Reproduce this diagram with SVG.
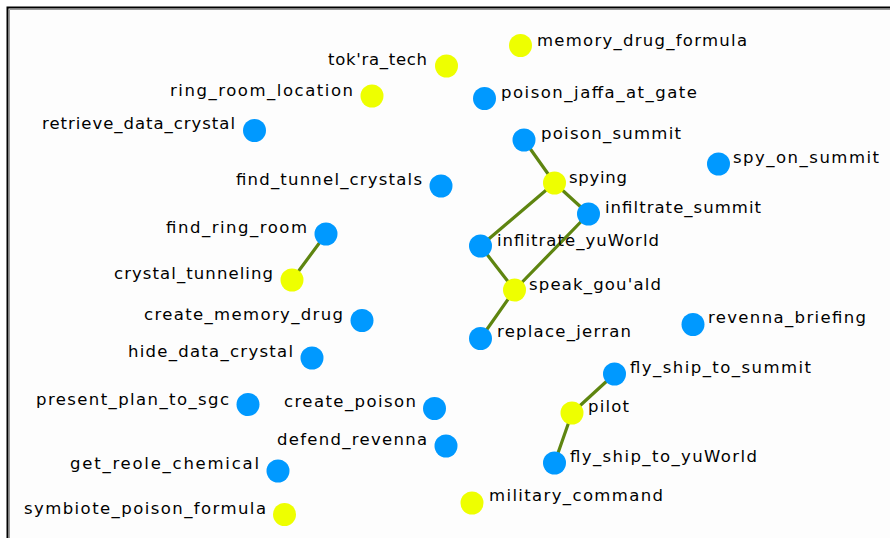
<svg xmlns="http://www.w3.org/2000/svg" width="890" height="538" viewBox="0 0 890 538">
<style>
.b{fill:#0099ff}
.y{fill:#eeff00}
text{font-family:"DejaVu Sans",Verdana,sans-serif;font-size:16.5px;fill:#000}
.e{stroke:#5e8510;stroke-width:3.2;stroke-linecap:round;fill:none}
</style>
<rect x="0" y="0" width="890" height="538" fill="#ffffff"/>
<rect x="8" y="8" width="882" height="530" fill="#fdfdfd"/>
<path d="M7.5 538 V7.5 H890" stroke="#000" stroke-width="2" fill="none"/>
<path d="M9.5 538 V9.5 H890" stroke="#999" stroke-width="1" fill="none"/>
<g id="connectors">
<line class="e" x1="326" y1="234" x2="292" y2="280"/>
<line class="e" x1="524" y1="140" x2="554.5" y2="183"/>
<line class="e" x1="554.5" y1="183" x2="588.5" y2="214"/>
<line class="e" x1="554.5" y1="183" x2="480.5" y2="246"/>
<line class="e" x1="588.5" y1="214" x2="514.5" y2="290"/>
<line class="e" x1="480.5" y1="246" x2="514.5" y2="290"/>
<line class="e" x1="514.5" y1="290" x2="480.5" y2="338.5"/>
<line class="e" x1="614.5" y1="374" x2="572" y2="413"/>
<line class="e" x1="572" y1="413" x2="554.5" y2="463"/>
</g>
<g id="memory_drug_formula"><circle class="y" cx="520.5" cy="45.5" r="11.5"/><text x="537" y="46" textLength="210" lengthAdjust="spacing">memory_drug_formula</text></g>
<g id="poison_jaffa_at_gate"><circle class="b" cx="484.5" cy="98.5" r="11.5"/><text x="501" y="98" textLength="196" lengthAdjust="spacing">poison_jaffa_at_gate</text></g>
<g id="poison_summit"><circle class="b" cx="524" cy="140" r="11.5"/><text x="541" y="139" textLength="140" lengthAdjust="spacing">poison_summit</text></g>
<g id="spy_on_summit"><circle class="b" cx="718.5" cy="164" r="11.5"/><text x="733" y="163" textLength="146" lengthAdjust="spacing">spy_on_summit</text></g>
<g id="spying"><circle class="y" cx="554.5" cy="183" r="11.5"/><text x="569" y="183" textLength="58" lengthAdjust="spacing">spying</text></g>
<g id="infiltrate_summit"><circle class="b" cx="588.5" cy="214" r="11.5"/><text x="605" y="213" textLength="156" lengthAdjust="spacing">infiltrate_summit</text></g>
<g id="inflitrate_yuWorld"><circle class="b" cx="480.5" cy="246" r="11.5"/><text x="497" y="246" textLength="162" lengthAdjust="spacing">inflitrate_yuWorld</text></g>
<g id="speak_gou_ald"><circle class="y" cx="514.5" cy="290" r="11.5"/><text x="529" y="290" textLength="132" lengthAdjust="spacing">speak_gou'ald</text></g>
<g id="replace_jerran"><circle class="b" cx="480.5" cy="338.5" r="11.5"/><text x="497" y="337" textLength="134" lengthAdjust="spacing">replace_jerran</text></g>
<g id="revenna_briefing"><circle class="b" cx="693" cy="324.5" r="11.5"/><text x="708" y="323" textLength="158" lengthAdjust="spacing">revenna_briefing</text></g>
<g id="fly_ship_to_summit"><circle class="b" cx="614.5" cy="374" r="11.5"/><text x="630" y="373" textLength="181" lengthAdjust="spacing">fly_ship_to_summit</text></g>
<g id="pilot"><circle class="y" cx="572" cy="413" r="11.5"/><text x="588" y="412" textLength="41" lengthAdjust="spacing">pilot</text></g>
<g id="fly_ship_to_yuWorld"><circle class="b" cx="554.5" cy="463" r="11.5"/><text x="570" y="462" textLength="187" lengthAdjust="spacing">fly_ship_to_yuWorld</text></g>
<g id="military_command"><circle class="y" cx="472" cy="503" r="11.5"/><text x="489" y="501" textLength="174" lengthAdjust="spacing">military_command</text></g>
<g id="tokra_tech"><circle class="y" cx="446.5" cy="66" r="11.5"/><text x="328" y="65" textLength="99" lengthAdjust="spacing">tok'ra_tech</text></g>
<g id="ring_room_location"><circle class="y" cx="372" cy="96" r="11.5"/><text x="170" y="96" textLength="183" lengthAdjust="spacing">ring_room_location</text></g>
<g id="retrieve_data_crystal"><circle class="b" cx="254.5" cy="130.5" r="11.5"/><text x="42" y="129" textLength="193" lengthAdjust="spacing">retrieve_data_crystal</text></g>
<g id="find_tunnel_crystals"><circle class="b" cx="441" cy="186" r="11.5"/><text x="236" y="185" textLength="186" lengthAdjust="spacing">find_tunnel_crystals</text></g>
<g id="find_ring_room"><circle class="b" cx="326" cy="234" r="11.5"/><text x="166" y="233" textLength="141" lengthAdjust="spacing">find_ring_room</text></g>
<g id="crystal_tunneling"><circle class="y" cx="292" cy="280" r="11.5"/><text x="114" y="279" textLength="159" lengthAdjust="spacing">crystal_tunneling</text></g>
<g id="create_memory_drug"><circle class="b" cx="362" cy="320.5" r="11.5"/><text x="144" y="320" textLength="199" lengthAdjust="spacing">create_memory_drug</text></g>
<g id="hide_data_crystal"><circle class="b" cx="312" cy="358" r="11.5"/><text x="128" y="357" textLength="165" lengthAdjust="spacing">hide_data_crystal</text></g>
<g id="present_plan_to_sgc"><circle class="b" cx="248" cy="404.5" r="11.5"/><text x="36" y="405" textLength="193" lengthAdjust="spacing">present_plan_to_sgc</text></g>
<g id="create_poison"><circle class="b" cx="434.5" cy="408.5" r="11.5"/><text x="284" y="407" textLength="132" lengthAdjust="spacing">create_poison</text></g>
<g id="defend_revenna"><circle class="b" cx="446" cy="446" r="11.5"/><text x="277" y="445" textLength="150" lengthAdjust="spacing">defend_revenna</text></g>
<g id="get_reole_chemical"><circle class="b" cx="278" cy="471" r="11.5"/><text x="70" y="469" textLength="189" lengthAdjust="spacing">get_reole_chemical</text></g>
<g id="symbiote_poison_formula"><circle class="y" cx="284.5" cy="514.5" r="11.5"/><text x="24" y="514" textLength="242" lengthAdjust="spacing">symbiote_poison_formula</text></g>
</svg>
